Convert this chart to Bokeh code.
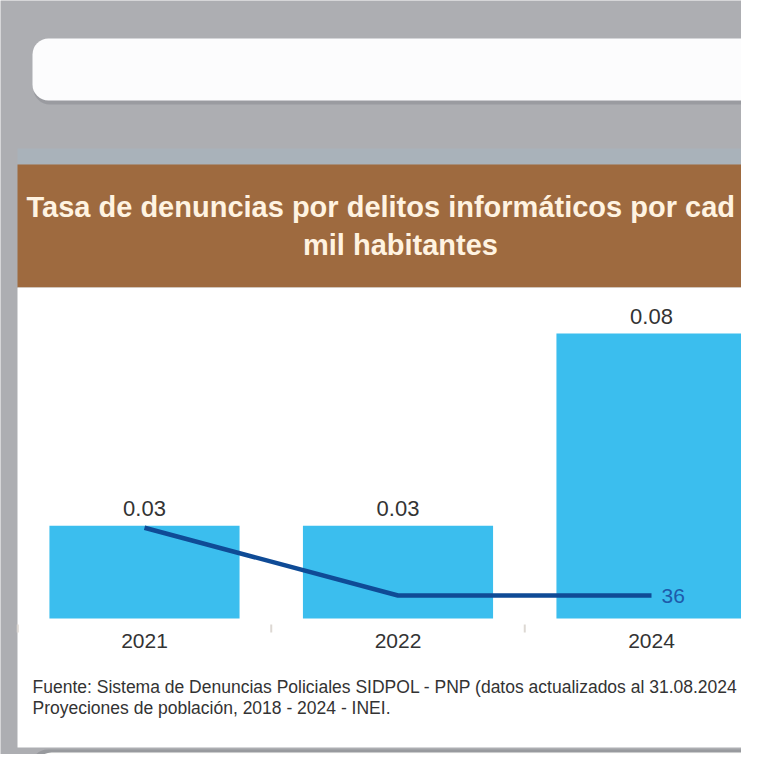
from bokeh.plotting import figure
from bokeh.models import Range1d, BoxAnnotation
from bokeh.core.properties import value
from bokeh.embed import file_html
from bokeh.resources import INLINE

# ---- data ----
years = ["2021", "2022", "2024"]
tasa = [0.026, 0.026, 0.08]          # tasa por cada 100 mil habitantes (bars)
denuncias = [142, 36, 36]            # line series
title_lines = ["Tasa de denuncias por delitos informáticos por cad", "mil habitantes"]
source_lines = [
    "Fuente: Sistema de Denuncias Policiales SIDPOL - PNP (datos actualizados al 31.08.2024",
    "Proyeciones de población, 2018 - 2024 - INEI.",
]

idx = list(range(len(years)))
tasa_txt = ["%.2f" % v for v in tasa]
FONT = value("Liberation Sans")

BG = "#ADAEB2"
BROWN = "#9E6A3F"
BAR = "#3BBEEE"
LINE = "#0F4B96"

W, H = 741, 754
p = figure(width=W, height=H, x_range=Range1d(0, W), y_range=Range1d(H, 0),
           output_backend="svg", toolbar_location=None, min_border=0,
           x_axis_location=None, y_axis_location=None,
           background_fill_color=BG, border_fill_color=BG, outline_line_color=None)
p.grid.visible = False

# category scale for bars / line (index -> x), value scales
p.extra_x_ranges = {"cat": Range1d(-0.568, 2.355)}
p.extra_y_ranges = {"val": Range1d(-0.03818, 0.17347), "cnt": Range1d(-212.9, 967.3)}

# ---- decoration (page layout) ----
# top rounded white box with shadow
p.add_layout(BoxAnnotation(left=33, right=758, top=41, bottom=104, fill_color="#8A8C91",
                           fill_alpha=0.55, line_color=None, border_radius=16, level="underlay"))
p.add_layout(BoxAnnotation(left=32, right=756, top=38, bottom=100, fill_color="#FCFCFD",
                           fill_alpha=1, line_color=None, border_radius=16, level="underlay"))
# bluish strip above band
p.quad(left=[17], right=[760], top=[148], bottom=[164], fill_color="#A9B2BA", line_color=None)
# brown title band
p.quad(left=[17], right=[760], top=[164], bottom=[287], fill_color=BROWN, line_color=None)
# white chart panel
p.quad(left=[17], right=[760], top=[287], bottom=[747], fill_color="#FFFFFF", line_color=None)
# bottom box (next card) with shadow
p.add_layout(BoxAnnotation(left=31, right=770, top=749, bottom=800, fill_color="#8A8C91",
                           fill_alpha=0.6, line_color=None, border_radius=16, level="underlay"))
p.add_layout(BoxAnnotation(left=35, right=770, top=752, bottom=800, fill_color="#FDFDFB",
                           fill_alpha=1, line_color=None, border_radius=16, level="underlay"))

# title texts
p.text(x=[26], y=[206], text=[title_lines[0]], text_font=FONT, text_font_style="bold",
       text_font_size="29px", text_color="#FFF3E1", text_align="left", text_baseline="alphabetic")
p.text(x=[400], y=[244], text=[title_lines[1]], text_font=FONT, text_font_style="bold",
       text_font_size="29px", text_color="#FFF3E1", text_align="center", text_baseline="alphabetic")

# ---- bars ----
p.vbar(x=idx, top=tasa, bottom=0, width=0.75, fill_color=BAR, line_color=None,
       x_range_name="cat", y_range_name="val")
p.text(x=idx, y=tasa, text=tasa_txt, x_range_name="cat", y_range_name="val",
       text_font=FONT, text_font_size="22px", text_color="#333333",
       text_align="center", text_baseline="alphabetic", y_offset=-17)

# category separators (faint ticks)
seps = [i - 0.5 for i in idx]
p.segment(x0=seps, x1=seps, y0=[624] * len(seps), y1=[632] * len(seps),
          x_range_name="cat", line_color="#DDD8D3", line_width=2)

# category labels
p.text(x=idx, y=[0] * len(idx), text=years, x_range_name="cat", y_range_name="val",
       text_font=FONT, text_font_size="21px", text_color="#333333",
       text_align="center", text_baseline="alphabetic", y_offset=23)

# ---- line ----
p.line(x=idx, y=denuncias, x_range_name="cat", y_range_name="cnt",
       line_color=LINE, line_width=4.5, line_join="round")
p.text(x=[idx[-1]], y=[denuncias[-1]], text=[str(denuncias[-1])],
       x_range_name="cat", y_range_name="cnt", text_font=FONT, text_font_size="21px",
       text_color="#1E5AAA", text_align="left", text_baseline="alphabetic",
       x_offset=10, y_offset=1)

# ---- source ----
p.text(x=[32, 32], y=[686, 707], text=source_lines, text_font=FONT, text_font_size="17.5px",
       text_color="#333333", text_align="left", text_baseline="alphabetic")

open("out.html", "w").write(file_html(p, INLINE))
